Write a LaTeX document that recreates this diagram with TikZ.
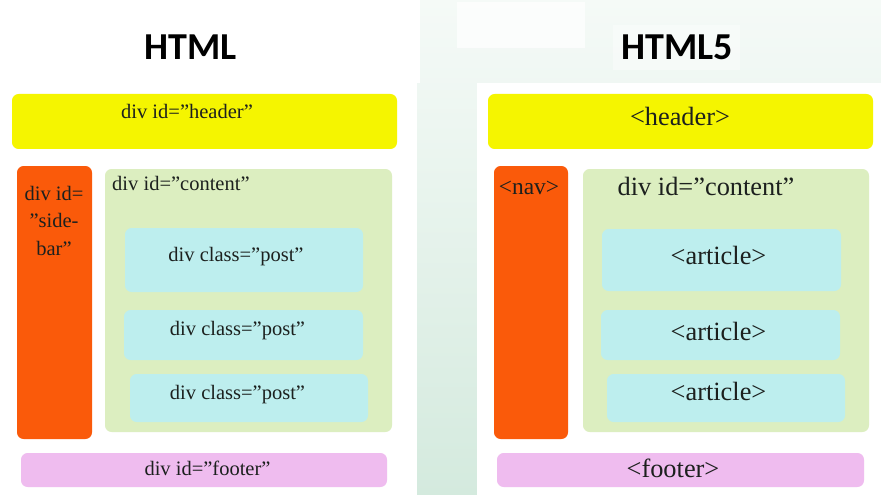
\documentclass[tikz,border=0pt]{standalone}
\usepackage{fontspec}
\setmainfont{Liberation Serif}
\newfontfamily\titlefont{Carlito}

\definecolor{hdryellow}{RGB}{245,245,0}
\definecolor{navorange}{RGB}{250,90,10}
\definecolor{contgreen}{RGB}{220,238,192}
\definecolor{postcyan}{RGB}{189,238,238}
\definecolor{footpink}{RGB}{239,188,239}
\definecolor{inktext}{RGB}{28,32,30}
\definecolor{bgtop}{RGB}{245,250,247}
\definecolor{bgbottom}{RGB}{212,234,222}

\tikzset{
	blk/.style={rounded corners=2mm},
	small/.style={text=inktext, inner sep=0pt, font=\fontsize{17.5}{20}\selectfont},
	large/.style={text=inktext, inner sep=0pt, font=\fontsize{22.5}{26}\selectfont},
	title/.style={text=black, inner sep=0pt, font=\titlefont\bfseries\fontsize{32.5}{36}\selectfont}
}

\begin{document}
\begin{tikzpicture}[x=0.3mm, y=-0.3mm]
	% background and the two white panels
	\shade[top color=bgtop, bottom color=bgbottom] (0,0) rectangle (881,495);
	\useasboundingbox (0,0) rectangle (881,495);
	\fill[white] (0,0) rectangle (420,83);
	\fill[white, opacity=0.7] (457,2) rectangle (585,48);
	\fill[white, opacity=0.4] (613,25) rectangle (740,70);
	\fill[white] (0,83) rectangle (417,495);
	\fill[white] (477,83) rectangle (881,495);
	
	% HTML
	\node[title, anchor=base] (t1) at (190.5,60) {HTML};
	\fill[blk, hdryellow] (12,94) rectangle (397,149);
	\fill[blk, navorange] (17,166) rectangle (92,439);
	\fill[blk, contgreen] (105,169) rectangle (392,432);
	\fill[blk, postcyan] (125,228) rectangle (363,292);
	\fill[blk, postcyan] (124,310) rectangle (363,360);
	\fill[blk, postcyan] (130,374) rectangle (368,422);
	\fill[blk, footpink] (21,453) rectangle (387,487);
	\node[small, anchor=base] (h1) at (187,119) {div id=''header''};
	\node[small, anchor=north, align=center, font=\fontsize{17.5}{23.5}\selectfont] (s1) at (54,186) {div id=\\''side-\\bar''};
	\node[small, anchor=base west] (c1) at (112,190) {div id=''content''};
	\node[small, anchor=base] (p1) at (236,261) {div class=''post''};
	\node[small, anchor=base] (p2) at (237.5,335) {div class=''post''};
	\node[small, anchor=base] (p3) at (237.5,399) {div class=''post''};
	\node[small, anchor=base] (f1) at (207.5,475) {div id=''footer''};
	
	% HTML5
	\node[title, anchor=base] (t2) at (677.5,60) {HTML5};
	\fill[blk, hdryellow] (488,94) rectangle (873,149);
	\fill[blk, navorange] (494,166) rectangle (568,439);
	\fill[blk, contgreen] (583,169) rectangle (869,432);
	\fill[blk, postcyan] (602,229) rectangle (841,291);
	\fill[blk, postcyan] (601,310) rectangle (840,360);
	\fill[blk, postcyan] (607,374) rectangle (845,422);
	\fill[blk, footpink] (497,453) rectangle (864,487);
	\node[large, anchor=base] (h2) at (680,126) {<header>};
	\node[small, anchor=base, font=\fontsize{20}{24}\selectfont] (n2) at (529,194) {<nav>};
	\node[large, anchor=base] (c2) at (706,195) {div id=''content''};
	\node[large, anchor=base] (a1) at (718.5,264) {<article>};
	\node[large, anchor=base] (a2) at (718.5,340) {<article>};
	\node[large, anchor=base] (a3) at (718.5,400) {<article>};
	\node[large, anchor=base] (f2) at (673,477) {<footer>};
\end{tikzpicture}
\end{document}
